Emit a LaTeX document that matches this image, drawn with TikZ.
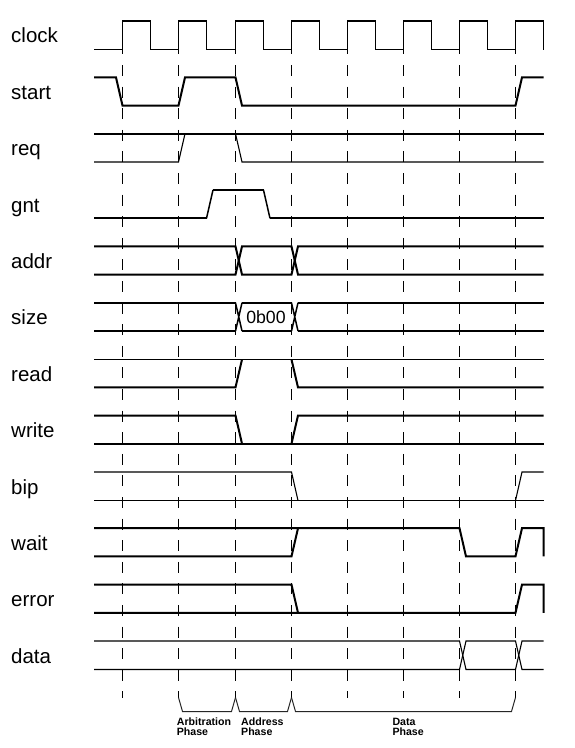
\documentclass[tikz,border=0pt]{standalone}
\usepackage{fontspec}
\setmainfont{Liberation Sans}
\begin{document}
\begin{tikzpicture}[x=1pt,y=-1pt,
  thk/.style={line width=2pt,line join=miter},
  thn/.style={line width=1.1pt,line join=miter},
  edg/.style={line width=1.5pt},
  clk/.style={line width=1.1pt},
  gridline/.style={line width=1pt,dash pattern=on 11pt off 10.6pt},
  bracket/.style={line width=1pt,black!85},
  lbl/.style={font=\fontsize{20.5}{24}\selectfont,anchor=base west,inner sep=0pt},
  val/.style={font=\fontsize{17.7}{20}\selectfont,inner sep=0pt},
  phase/.style={font=\bfseries\fontsize{10.6}{12}\selectfont,anchor=base west,inner sep=0pt}]
\useasboundingbox (0,0) rectangle (574,748);
\fill[white] (0,0) rectangle (574,748);

% dashed clock-edge grid
\foreach \r in {122.5,178.5,235.5,291.5,347.5,403.5,459.5,515.5}
  \draw[gridline] (\r,21.8) -- (\r,697.5);

% clock
\draw[clk] (94,49.5) foreach \r in {122.5,178.5,235.5,291.5,347.5,403.5,459.5,515.5} {
  -- (\r,49.5) -- (\r,21) -- ({\r+28},21) -- ({\r+28},49.5) };

% start (row 1)
\draw[thk] (94,77.4) -- (116,77.4) -- (122.5,105.6) -- (178.5,105.6) -- (185,77.4) -- (235.5,77.4) -- (242,105.6) -- (515.5,105.6) -- (522,77.4) -- (543.5,77.4);

% req (row 2)
\draw[thk] (94,133.7) -- (543.5,133.7);
\draw[thn] (94,162) -- (178.5,162) -- (185,133.7);
\draw[thn] (235.5,133.7) -- (242,162) -- (543.5,162);

% gnt (row 3)
\draw[thk] (94,218.3) -- (206.5,218.3);
\draw[thk] (270,218.3) -- (543.5,218.3);
\draw[thn] (213,190) -- (263.5,190);
\draw[edg] (206.5,218.3) -- (213,190);
\draw[edg] (263.5,190) -- (270,218.3);

% addr (row 4)
\draw[thk] (94,246.4) -- (235.5,246.4) -- (242,274.6) -- (291.5,274.6) -- (298,246.4) -- (543.5,246.4);
\draw[thk] (94,274.6) -- (235.5,274.6) -- (242,246.4) -- (291.5,246.4) -- (298,274.6) -- (543.5,274.6);

% size (row 5)
\draw[thk] (94,302.8) -- (235.5,302.8) (242,302.8) -- (291.5,302.8) (298,302.8) -- (543.5,302.8);
\draw[thn] (94,331) -- (235.5,331) (242,331) -- (291.5,331) (298,331) -- (543.5,331);
\draw[edg] (235.5,302.8) -- (242,331) (235.5,331) -- (242,302.8)
           (291.5,302.8) -- (298,331) (291.5,331) -- (298,302.8);
\node[val] (vsize) at (266,317) {0b00};

% read (row 6)
\draw[thn] (94,359.5) -- (543.5,359.5);
\draw[thk] (94,387.4) -- (235.5,387.4) -- (242,359.5);
\draw[thk] (291.5,359.5) -- (298,387.4) -- (543.5,387.4);

% write (row 7)
\draw[thk] (94,443.7) -- (543.5,443.7);
\draw[thk] (94,415.5) -- (235.5,415.5) -- (242,443.7);
\draw[thk] (291.5,443.7) -- (298,415.5) -- (543.5,415.5);

% bip (row 8)
\draw[thn] (94,500.5) -- (543.5,500.5);
\draw[thn] (94,472) -- (291.5,472) -- (298,500.5);
\draw[thn] (515.5,500.5) -- (522,472) -- (543.5,472);

% wait (row 9)
\draw[thk] (94,556.4) -- (291.5,556.4) -- (298,528.2);
\draw[thk] (94,528.2) -- (459.5,528.2) -- (466,556.4) -- (515.5,556.4) -- (522,528.2) -- (543.5,528.2) -- (543.5,556.4);

% error (row 10)
\draw[thk] (94,584.6) -- (291.5,584.6) -- (298,612.8);
\draw[thk] (94,612.8) -- (515.5,612.8) -- (522,584.6) -- (543.5,584.6) -- (543.5,612.8);

% data (row 11)
\draw[thn] (94,641) -- (459.5,641) -- (466,669.5) -- (515.5,669.5) -- (522,641) -- (543.5,641);
\draw[thn] (94,669.5) -- (459.5,669.5) -- (466,641) -- (515.5,641) -- (522,669.5) -- (543.5,669.5);

% signal labels
\node[lbl] (lclock) at (11,42) {clock};
\node[lbl] (lstart) at (11,99.5) {start};
\node[lbl] (lreq) at (11,155.8) {req};
\node[lbl] (lgnt) at (11,212.2) {gnt};
\node[lbl] (laddr) at (11,268.5) {addr};
\node[lbl] (lsize) at (11,324.9) {size};
\node[lbl] (lread) at (11,381.3) {read};
\node[lbl] (lwrite) at (11,437.6) {write};
\node[lbl] (lbip) at (11,494) {bip};
\node[lbl] (lwait) at (11,550.3) {wait};
\node[lbl] (lerror) at (11,606.7) {error};
\node[lbl] (ldata) at (11,663.1) {data};

% phase brackets
\draw[bracket] (178.5,697.5) -- (182.5,711.5) -- (231.5,711.5) -- (235.5,697.5);
\draw[bracket] (235.5,697.5) -- (239.5,711.5) -- (287.5,711.5) -- (291.5,697.5);
\draw[bracket] (291.5,697.5) -- (295.5,711.5) -- (511.5,711.5) -- (515.5,697.5);

\node[phase] (parb1) at (176.7,725) {Arbitration};
\node[phase] (parb2) at (176.7,735.7) {Phase};
\node[phase] (padr1) at (241,725) {Address};
\node[phase] (padr2) at (241,735.7) {Phase};
\node[phase] (pdat1) at (392.3,725) {Data};
\node[phase] (pdat2) at (392.3,735.7) {Phase};
\end{tikzpicture}
\end{document}
